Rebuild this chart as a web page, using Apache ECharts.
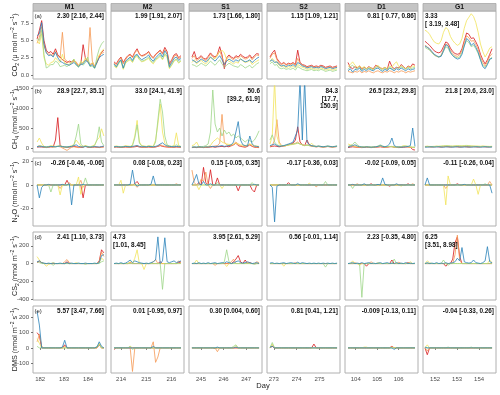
<!DOCTYPE html>
<html><head><meta charset="utf-8">
<script src="https://cdn.jsdelivr.net/npm/echarts@6/dist/echarts.min.js"></script>
<style>html,body{margin:0;padding:0;background:#fff}#c{width:500px;height:395px}</style>
</head><body><div id="c"></div>
<script>
// ---------- categories / axes ----------
const sites = ['M1','M2','S1','S2','D1','G1'];
const panelTags = ['(a)','(b)','(c)','(d)','(e)'];
const xMinDay = [181.7, 213.6, 244.47, 272.7, 103.5, 151.45];
const xMaxDay = [184.75, 216.5, 247.7, 275.9, 106.9, 154.77];
const xTickVals = [[182,183,184],[214,215,216],[245,246,247],[273,274,275],[104,105,106],[152,153,154]];
const dayStart = [181.87, 213.72, 244.6, 272.83, 103.64, 151.54];
const dayEnd   = [184.66, 216.38, 247.57, 275.77, 106.76, 154.59];
const yMinVal = [-0.6, -100, -35, -410, -165];
const yMaxVal = [9.3, 1550, 23, 355, 275];
const yTickVals = [[0,2.5,5,7.5],[0,500,1000,1500],[-20,0,20],[-400,-200,0,200],[-100,0,100,200]];

// ---------- annotations ----------
const notesCO2 = ['2.30 [2.16, 2.44]','1.99 [1.91, 2.07]','1.73 [1.66, 1.80]','1.15 [1.09, 1.21]','0.81 [ 0.77, 0.86]','3.33\n[ 3.19, 3.48]'];
const notesCH4 = ['28.9 [22.7, 35.1]','33.0 [24.1, 41.9]','50.6\n[39.2, 61.9]','84.3\n[17.7,\n150.9]','26.5 [23.2, 29.8]','21.8 [ 20.6, 23.0]'];
const notesN2O = ['-0.26 [-0.46, -0.06]','0.08 [-0.08, 0.23]','0.15 [-0.05, 0.35]','-0.17 [-0.36, 0.03]','-0.02 [-0.09, 0.05]','-0.11 [-0.26, 0.04]'];
const notesCS2 = ['2.41 [1.10, 3.73]','4.73\n[1.01, 8.45]','3.95 [2.61, 5.29]','0.56 [-0.01, 1.14]','2.23 [-0.35, 4.80]','6.25\n[3.51, 8.98]'];
const notesDMS = ['5.57 [3.47, 7.66]','0.01 [-0.95, 0.97]','0.30 [0.004, 0.60]','0.81 [0.41, 1.21]','-0.009 [-0.13, 0.11]','-0.04 [-0.33, 0.26]'];
const leftNotes = ['0-5','3-1','3-5'];

// ---------- data: each panel = [red, orange, yellow, green, blue] ----------
const co2_M1 = [
 [5.2,6.5,7.9,5.0,3.6,3.2,3.4,3.0,3.8,2.9,2.6,2.2,2.0,1.8,2.0,1.9,2.1,1.7,1.4,1.6,4.4,2.4,2.0,1.5,1.7,1.2,1.9,2.6,3.3,3.6],
 [4.6,5.5,7.0,4.2,3.3,3.0,3.0,2.8,3.4,2.7,2.5,6.2,2.3,2.0,1.8,1.7,2.0,1.9,1.3,1.5,1.9,2.2,2.0,6.9,2.0,1.3,1.7,2.8,3.1,3.3],
 [5.0,4.5,6.0,2.5,1.6,1.4,1.8,1.9,2.5,2.1,1.8,3.0,1.7,1.6,1.4,1.8,2.3,1.6,1.3,2.0,1.7,2.5,2.2,1.4,1.8,1.1,2.1,2.9,3.4,3.8],
 [5.3,5.0,6.5,3.0,1.0,1.2,1.5,1.5,2.0,1.8,1.2,1.3,1.4,1.2,1.5,1.9,2.3,1.4,1.1,1.8,1.4,1.8,2.6,1.2,1.3,0.9,2.6,3.8,4.5,4.9],
 [5.7,6.0,7.6,4.5,3.2,2.8,2.9,2.6,3.3,2.5,2.0,1.8,1.6,1.5,1.4,1.6,1.8,1.5,1.2,1.5,1.6,2.1,1.9,1.3,1.5,1.0,1.8,2.5,2.8,3.0]];
const co2_M2 = [
 [1.9,1.6,2.2,2.6,1.8,2.4,2.8,3.0,2.6,3.3,3.8,3.0,2.8,2.9,3.1,3.4,2.8,2.5,3.0,3.3,3.6,3.1,4.0,3.4,1.6,2.2,2.9,3.1,2.5,2.8],
 [1.7,1.5,2.0,2.5,1.6,2.2,2.7,2.9,2.5,3.2,3.6,3.1,2.7,2.8,3.0,3.3,2.7,2.4,2.9,3.2,3.5,3.0,3.7,3.2,1.4,2.0,2.7,2.9,2.3,2.6],
 [1.3,1.0,1.6,2.0,0.8,1.7,2.0,2.2,1.8,2.5,2.7,2.2,1.9,2.0,2.2,2.4,1.9,1.6,2.1,2.4,2.7,2.2,2.9,2.5,0.9,1.4,2.0,2.2,1.7,2.0],
 [1.5,1.1,1.7,2.1,0.9,1.9,2.1,2.4,1.9,2.6,2.9,2.3,2.0,2.1,2.3,2.6,2.0,1.8,2.3,2.5,2.9,2.3,3.1,2.7,1.0,1.5,2.1,2.3,1.8,2.1],
 [1.6,1.2,1.8,2.2,1.0,2.0,2.3,2.6,2.1,2.8,3.0,2.5,2.2,2.4,2.6,2.9,2.3,2.0,2.5,2.8,3.2,2.6,3.5,3.0,1.2,1.8,2.4,2.6,2.1,2.4]];
const co2_S1 = [
 [2.6,3.4,2.3,2.5,2.8,2.4,2.3,2.7,3.2,2.8,2.6,3.0,4.1,2.9,0.9,2.5,2.9,2.6,2.4,2.8,2.6,3.0,2.7,2.5,2.6,2.9,2.4,2.8,3.1,3.0],
 [2.4,2.8,2.1,2.3,2.6,2.3,2.1,2.5,3.0,2.6,2.4,2.8,3.5,2.6,1.6,2.3,2.7,2.4,2.2,2.6,2.4,2.8,2.5,2.3,2.4,2.7,2.2,2.6,2.9,2.8],
 [1.8,2.2,1.6,1.9,2.1,1.8,1.6,2.0,2.6,2.3,2.4,3.0,3.3,3.6,3.2,2.2,2.0,1.8,1.6,1.9,1.7,2.4,2.0,1.8,1.9,2.1,1.5,1.8,2.0,2.2],
 [1.5,1.4,1.2,1.4,1.7,1.5,1.3,1.6,2.0,1.7,1.4,1.8,2.2,1.6,1.1,1.4,1.7,1.5,1.3,1.2,1.1,1.5,1.3,1.0,1.2,1.4,1.0,1.3,1.6,1.8],
 [2.2,2.0,1.8,2.0,2.3,2.1,1.9,2.2,2.6,2.3,2.0,2.4,2.8,2.2,1.5,2.0,2.3,2.1,1.9,2.2,2.0,2.3,2.1,1.9,2.0,2.2,1.8,2.1,2.4,2.6]];
const co2_S2 = [
 [2.6,3.2,3.6,2.4,1.9,1.6,1.8,1.5,1.7,1.6,1.8,1.5,3.6,1.8,1.5,1.4,1.2,1.3,1.4,1.2,1.3,1.2,1.4,1.3,1.1,1.2,1.3,1.1,1.2,1.3],
 [2.4,3.0,3.2,2.2,1.7,1.5,1.7,1.4,1.6,1.5,1.7,1.4,2.4,1.7,1.4,1.3,1.1,1.2,1.3,1.1,1.2,1.1,1.3,1.2,1.0,1.1,1.2,1.0,1.1,1.2],
 [1.9,2.4,2.0,1.8,1.4,1.2,1.3,1.0,1.2,1.1,1.3,1.0,1.5,1.3,1.1,1.0,0.8,0.9,1.0,0.8,0.9,0.8,1.0,0.9,0.7,0.8,0.9,0.7,0.8,0.9],
 [1.6,1.9,1.4,1.5,1.0,0.9,1.0,0.8,0.9,0.8,1.0,0.7,1.2,1.0,0.8,0.7,0.6,0.7,0.8,0.6,0.7,0.6,0.8,0.7,0.5,0.6,0.7,0.5,0.6,0.7],
 [2.0,2.2,1.8,1.9,1.5,1.3,1.4,1.2,1.4,1.3,1.5,1.2,1.8,1.6,1.3,1.2,1.0,1.1,1.2,1.0,1.1,1.0,1.2,1.1,0.9,1.0,1.1,0.9,1.0,1.1]];
const co2_D1 = [
 [1.8,1.1,0.9,1.2,1.0,1.3,0.8,1.1,0.9,1.2,1.0,0.9,1.4,1.2,1.0,0.9,1.1,0.8,2.0,1.2,0.9,1.1,1.0,1.5,1.2,0.9,1.3,1.1,1.6,1.4],
 [0.5,0.4,0.3,0.5,0.4,0.6,0.3,0.5,0.4,0.6,0.4,0.3,0.5,0.6,0.4,0.3,0.5,0.4,0.6,0.5,0.3,0.5,0.4,0.6,0.5,0.3,0.5,0.4,0.5,0.6],
 [1.2,1.5,1.9,1.4,1.1,1.3,1.0,1.2,0.9,1.1,1.0,0.8,1.2,1.4,1.0,0.9,1.1,0.9,1.3,1.1,1.6,1.9,1.2,1.3,1.1,0.9,1.2,1.0,1.3,1.2],
 [0.8,1.2,1.4,1.0,0.9,1.1,0.7,1.0,0.8,1.0,0.9,0.7,1.1,1.2,0.9,0.7,1.0,0.8,1.1,0.9,0.8,1.1,0.9,1.2,1.0,0.8,1.1,0.9,1.0,1.1],
 [0.6,0.9,0.4,0.8,0.7,1.0,0.5,0.8,0.6,0.9,0.7,0.6,0.9,1.0,0.7,0.5,0.8,0.6,1.0,0.8,0.6,0.9,0.7,1.0,0.8,0.6,0.9,0.7,0.8,0.9]];
const co2_G1 = [
 [4.9,4.6,4.3,3.9,3.5,3.3,3.2,3.4,4.1,4.8,4.6,3.9,3.4,3.1,3.0,3.1,3.8,5.0,6.1,5.9,5.3,5.4,4.8,4.1,3.0,2.2,1.6,2.2,3.0,3.8],
 [4.3,4.1,3.7,3.3,2.9,2.7,2.6,2.9,3.7,4.5,4.3,3.6,3.1,2.8,2.7,2.9,3.5,4.7,5.7,5.4,4.9,5.0,4.4,3.7,2.6,1.8,1.3,1.9,2.7,3.1],
 [6.5,6.3,5.9,5.3,4.8,4.6,4.5,5.0,6.2,6.9,6.6,5.6,5.0,4.6,4.3,4.5,5.3,6.8,7.9,8.4,8.9,8.5,7.6,6.2,4.5,3.4,2.6,3.2,3.9,4.1],
 [4.0,3.8,3.6,3.2,2.9,2.7,2.6,2.8,3.4,4.1,3.9,3.2,2.8,2.6,2.5,2.6,3.2,4.3,5.0,4.7,4.1,4.3,3.8,3.1,2.2,1.4,1.1,1.6,2.2,2.6],
 [4.2,4.0,3.8,3.4,3.0,2.8,2.6,2.7,3.5,4.4,4.2,3.3,2.8,2.5,2.3,2.4,3.0,4.2,5.3,5.0,4.3,4.6,4.0,3.3,2.2,1.2,0.9,1.5,2.3,2.4]];

const ch4_M1 = [
 [20,30,25,20,15,20,30,25,200,760,60,30,20,15,20,30,40,30,20,15,20,50,20,15,20,25,20,15,25,30],
 [30,60,40,20,10,20,30,20,30,40,30,0,-30,-60,-20,20,30,20,10,20,30,40,20,10,20,30,20,10,20,30],
 [150,250,120,40,30,40,60,50,40,50,60,40,30,30,40,60,80,200,120,50,40,60,40,30,50,80,200,260,480,300],
 [30,60,50,30,20,30,40,30,30,40,50,30,20,20,30,40,80,300,600,100,40,50,40,30,40,60,200,530,150,60],
 [40,30,35,30,25,30,40,35,30,40,50,35,30,25,35,40,60,80,40,30,25,35,30,20,30,35,30,25,35,50]];
const ch4_M2 = [
 [20,25,20,15,20,25,20,20,25,30,40,25,20,20,20,25,20,20,25,40,60,40,30,25,20,20,20,25,20,20],
 [25,30,25,20,25,30,25,20,30,40,60,30,20,25,20,30,25,20,30,50,80,60,40,30,20,25,20,30,25,20],
 [40,50,40,30,40,60,50,40,80,300,690,150,60,50,40,60,50,40,200,600,1100,400,120,60,50,40,60,380,60,40],
 [30,40,35,30,35,40,35,30,60,250,580,120,50,40,35,45,40,35,150,700,1220,900,300,80,50,40,45,80,50,35],
 [30,35,30,25,30,40,35,30,40,50,60,40,30,35,30,40,35,30,40,60,100,130,80,50,40,35,30,40,35,30]];
const ch4_S1 = [
 [10,15,10,20,15,10,15,20,25,30,20,30,35,40,30,40,30,60,80,120,60,40,30,20,40,80,40,20,15,10],
 [15,20,15,25,20,15,20,25,30,40,50,60,120,840,150,80,60,50,100,150,100,60,40,30,50,100,50,30,20,15],
 [60,80,150,40,30,25,30,40,60,150,200,250,200,150,120,100,90,80,100,120,100,80,70,60,80,100,80,60,50,40],
 [20,30,25,30,30,40,60,100,400,1450,600,400,500,300,450,350,400,300,350,250,300,250,200,150,200,180,150,200,300,430],
 [20,25,20,30,25,20,30,25,35,40,30,40,50,60,40,50,60,80,150,400,660,200,80,60,50,300,100,50,40,30]];
const ch4_S2 = [
 [30,40,50,40,30,40,50,60,80,100,120,200,530,150,80,60,200,80,50,40,30,40,30,25,30,40,30,25,30,40],
 [40,60,200,710,150,60,50,60,80,90,100,120,150,100,80,60,80,60,40,35,30,35,30,25,30,35,30,25,30,35],
 [100,300,1700,300,100,60,50,60,70,80,90,100,120,100,80,60,70,60,120,60,40,50,40,30,40,50,40,30,40,50],
 [200,330,150,80,60,50,60,70,80,90,100,110,120,100,80,60,70,60,50,40,35,40,35,30,35,40,35,30,35,40],
 [60,80,100,60,40,50,60,80,100,120,150,300,450,1700,200,1700,150,80,60,50,40,50,40,30,40,50,40,30,40,50]];
const ch4_D1 = [
 [10,20,30,25,20,15,10,15,20,15,10,15,20,25,30,20,15,20,30,40,20,15,10,15,20,25,30,20,-40,-50],
 [30,60,40,30,20,15,20,25,30,20,15,20,25,30,40,30,20,25,35,30,20,15,20,25,30,35,20,15,10,10],
 [100,80,60,50,40,30,25,30,35,30,25,30,35,40,50,40,30,35,40,35,30,25,30,35,60,50,40,30,20,20],
 [40,60,90,150,80,40,30,25,30,25,20,25,30,50,80,50,30,35,40,30,25,20,25,30,40,50,40,30,20,20],
 [20,40,60,80,50,30,25,20,30,25,20,25,30,40,60,40,30,50,100,250,60,30,25,20,25,30,40,60,500,40]];
const ch4_G1 = [
 [30,36,30,26,31,34,29,25,32,36,30,27,31,35,30,26,30,36,29,25,31,34,30,26,31,35,29,27,30,34],
 [35,40,34,30,36,38,33,30,36,40,35,31,36,40,34,30,35,39,34,30,36,38,33,30,35,40,34,31,35,38],
 [40,45,40,38,42,48,45,50,55,60,58,52,50,55,60,58,55,62,65,60,55,52,50,48,45,50,46,42,40,44],
 [30,35,32,30,35,40,38,42,48,52,50,45,42,46,50,48,45,50,55,50,45,42,40,38,36,40,37,34,32,35],
 [25,20,28,30,22,26,31,24,20,27,30,25,21,26,32,25,22,24,29,26,21,25,30,27,20,24,31,26,22,25]];

const n2o_M1 = [
 [0,0,0,0,0,0,0,0,0,0,0,0,0,4,0,0,0,0,0,0,-11,0,0,0,0,0,0,0,0,0],
 [0,0,0,0,0,0,0,0,0,0,-3,0,0,0,2,0,0,0,0,4,-2,0,0,0,0,0,0,0,0,0],
 [0,0,0,0,0,0,0,0,0,0,-8.5,0,0,0,0,0,0,0,6.8,-8,0,0,0,0,0,0,0,0,0,0],
 [0,0,0,0,0,0,-6,0,0,0,0,0,0,0,0,0,0,0,0,0,0,6,0,0,0,0,0,0,0,0],
 [0,-11,-2,0,0,0.5,0,0,0,0,0,0.5,0,0,1,-17,0,0,0,0,0.5,0,0,0,0,0,0,0,0,0]];
const n2o_M2 = [
 [0,0,0,0,0,0,0,0,0,1,3,0,0,0,0,0,0,0,0,0,0,0,0,0,0,0,0,0,0,0],
 [0,0,0,0,0,0,0,0,0,0,-2,0,0,0,0,0,0,0,0,0,0,0,0,0,0,0,0,1,0,0],
 [0,0,0,4,-7,0,0,0,0,0,0,0,0,0,0,0,0,0,0,0,0,0,0,0,0,0,0,0,0,0],
 [0,0,0,0,0,0,0,0,0,0,0,0,0,0,0,0,0,0,0,0,0,0,0,0,0,0,0,0,0,0],
 [0,0,0,0,0,0,0,0.5,12.7,1,-1,0,0,0,0,0,0.5,7.7,0,0,0,0,0,0,0,0,0,0,0,0]];
const n2o_S1 = [
 [0,0,0,2,0,15,2,0,13,0,0,6,0,0,0,0,0,0,0,0,-5,0,0,0,0,0,-4,-6,0,0],
 [12.7,2,0,0,5,3,11,0,-3,0,0,0,0,0,0,0,0,0,0,0,0,0,0,0,0,0,0,0,0,0],
 [0,0,0,-4,0,0,0,0,0,0,0,0,0,-3,0,0,0,0,0,0,0,0,0,0,0,0,0,0,0,0],
 [0,0,0,0,0,0,0,0,0,0,0,2,0,0,0,0,0,0,0,0,0,0,0,0,0,0,2,0,0,0],
 [0,4,9,1,0,3,0,0,1,0,0,0,0,0,0,0,0,0,0,0,0,0,0,0,0,0,0,0.5,0,0]];
const n2o_S2 = [
 [0,0,0,0,0,0,0,0,2,0,0,0,0,0,0,0,0,0,0,0,0,0,0,0,0,0,0,0,0,0],
 [0,0,0,0,0,0,0,0,0,0,0,0,0,0,0,0,0,0,0,0,-1.5,0,0,0,0,0,0,0,0,0],
 [0,0,0,0,0,0,0,0,0,0,0,0,0,0,0,0,0,1.5,0,0,0,0,0,0,0,0,0,0,0,0],
 [0,0,0,0,0,0,0,0,0,0,0,0,0,0,0,0,0,0,0,0,0,0,0,0,3,0,0,0,0,0],
 [0,-2,-31.5,-1,0,0,0,0,0,0,0,0,1,0,0,0,0,0,0,0,0,0,0,0,0,0,0,0,0,0]];
const n2o_D1 = [
 [0,0,0,0,0,0,0,0,0,0,1,0,0,0,0,0,0,0,-1,0,0,0,0,0,0,0,1,0,0,0],
 [0,0,0,0,1,0,0,0,0,0,0,0,0,0,0,0,0,0,0,0,0,0,0,0,0,0,0,0,1,0],
 [0,0,0,0,0,0,0,0,0,0,0,0,0,0,0,0,0,0,0,0,0,0,0,-1,0,0,0,0,0,0],
 [0,0,-3,0,0,0,0,0,0,0,0,0,0,0,0,0,0,0,0,0,0,0,0,0,0,0,0,0,0,0],
 [0,0,0.5,0,0,0,0,1,0,0,0,0,0,0.5,0,6,0.5,0,0,0,0,1,0,0,0,0,0,0,0,0]];
const n2o_G1 = [
 [0,0,0,0,0,0,0,0,0,0,0,0,0,0,1,0,0,0,0,0,0,0,0,0,0,0,0,0,0,0],
 [0,0,0,0,0,0,0,0,0,-3,0,0,0,0,0,0,0,0,0,0,0,0,0,0,0,0,0,0,3,0],
 [0,0,0,0,0,0,0,0,0,-17,7.7,0,0,0,0,0,0,0,0,0,0,5,0,-8,0,0,0,0,0,0],
 [0,0,0,0,0,0,0,0,0,0,0,0,0,0,0,0,0,0,0,0,0,0,0,0,0,0,1,0,0,0],
 [0,6,0,0,0,0,0,0,0,0,0,0,0,0,0,0,0,0.5,0,0,0,0,0,0,0,0,0,0,0,-7]];

const cs2_M1 = [
 [10,30,10,0,0,0,0,0,0,0,0,0,0,20,0,0,0,0,0,0,0,0,0,0,0,0,0,30,155,120],
 [20,20,10,0,0,0,0,0,0,0,0,0,20,45,10,0,0,0,0,0,0,0,0,0,0,0,0,20,130,80],
 [78,40,10,0,-30,-10,0,10,0,0,0,0,0,0,0,0,0,10,0,0,0,0,0,0,0,0,0,10,60,40],
 [20,10,0,0,0,0,0,-20,0,0,0,0,0,0,0,0,0,0,0,0,0,-10,0,0,0,0,0,0,20,30],
 [20,30,10,5,0,5,0,5,0,0,5,0,0,10,0,5,0,0,5,0,0,5,0,0,0,5,0,10,90,100]];
const cs2_M2 = [
 [0,0,0,0,0,0,0,10,0,0,0,0,0,0,0,0,0,0,0,0,20,0,0,0,0,0,0,0,10,20],
 [0,0,0,0,0,0,0,0,0,0,0,0,0,0,0,0,0,20,45,0,0,0,0,0,0,0,0,0,30,10],
 [0,0,0,0,0,0,0,20,0,60,155,0,0,-67,0,0,0,0,0,0,0,0,0,0,0,0,0,0,0,0],
 [0,0,0,0,0,0,0,0,0,0,0,0,0,0,0,0,0,0,0,0,0,-290,0,0,0,0,0,0,0,0],
 [0,5,0,10,0,5,20,40,10,30,20,10,5,0,5,0,10,20,40,300,0,30,290,20,10,20,30,10,20,30]];
const cs2_S1 = [
 [0,0,0,0,0,0,0,0,0,0,0,0,0,0,0,0,0,0,20,50,90,20,0,40,0,10,0,0,0,0],
 [0,0,0,0,0,0,0,0,0,0,-20,0,0,0,0,0,0,20,50,0,0,0,0,0,10,0,0,0,20,10],
 [0,0,40,0,0,0,0,0,0,0,0,0,0,0,0,-33,0,0,0,0,0,0,0,0,0,0,0,0,0,0],
 [0,0,0,0,0,0,0,0,0,0,0,0,0,0,20,155,20,0,0,0,0,0,0,0,0,0,0,-10,0,0],
 [0,5,0,10,0,5,0,10,0,5,10,0,5,10,5,20,10,0,10,20,30,10,5,10,20,10,0,5,10,0]];
const cs2_S2 = [
 [0,0,0,0,0,0,0,0,0,0,0,0,0,0,0,0,0,0,0,0,0,0,0,0,0,0,0,0,0,0],
 [0,0,0,0,0,0,0,0,0,0,0,10,0,0,0,0,0,0,0,0,0,0,0,0,0,0,0,0,0,0],
 [0,0,0,0,0,0,-30,0,0,0,0,0,0,0,0,0,0,0,0,0,0,0,0,0,0,0,0,0,0,0],
 [0,0,0,0,0,0,0,0,0,0,0,0,0,0,0,0,0,0,0,0,0,0,0,0,-40,0,0,0,0,0],
 [5,10,0,5,0,5,10,0,5,10,5,0,15,0,10,5,0,5,0,5,0,5,0,5,0,5,0,5,0,5]];
const cs2_D1 = [
 [0,0,0,0,0,0,0,0,-30,0,0,0,0,0,0,0,0,0,0,40,0,0,0,0,0,0,10,0,0,0],
 [0,0,0,10,0,0,0,0,0,0,20,0,0,0,0,0,0,0,0,0,0,0,15,0,0,0,0,0,0,0],
 [0,0,30,0,0,-20,0,0,0,0,0,0,0,10,0,0,0,0,0,0,0,0,0,0,0,0,0,20,0,0],
 [0,0,0,0,0,0,-380,0,0,0,0,0,0,0,0,0,0,0,0,0,50,0,0,0,0,0,0,0,0,0],
 [0,5,10,0,5,0,10,0,5,10,0,5,0,5,10,0,5,10,0,5,0,10,0,5,0,10,0,5,0,5]];
const cs2_G1 = [
 [0,0,0,0,0,0,0,0,0,-30,0,0,50,235,300,80,0,0,0,0,0,0,0,0,0,0,0,0,0,0],
 [0,0,0,0,0,0,0,0,0,0,0,0,0,100,320,40,0,0,0,0,0,0,0,0,0,0,0,0,0,0],
 [0,30,10,0,0,0,0,0,0,0,0,0,0,0,0,0,0,0,0,0,0,0,0,0,0,0,0,0,40,10],
 [0,0,0,0,0,0,0,0,40,0,-20,0,0,0,0,0,0,0,0,0,0,0,0,0,0,0,0,0,0,0],
 [0,10,0,5,0,10,0,5,0,10,0,5,10,20,60,30,180,20,10,5,10,40,10,5,0,10,30,190,20,10]];

const dms_M1 = [
 [100,80,0,0,0,0,0,0,0,0,0,0,20,0,0,0,0,0,0,0,0,0,0,0,0,0,0,20,0,0],
 [40,90,10,0,0,0,0,0,0,0,0,0,10,0,0,0,0,0,0,0,0,0,0,0,0,0,0,25,0,0],
 [60,30,0,0,0,0,0,0,0,0,0,0,0,0,0,0,0,0,0,0,0,0,0,0,0,0,0,30,0,0],
 [10,0,0,0,0,0,0,0,0,0,0,0,0,0,0,0,0,0,0,0,0,0,0,0,0,0,10,20,0,0],
 [240,150,0,0,0,0,0,0,0,0,0,5,50,0,0,0,0,0,0,0,0,0,0,0,0,0,5,40,10,0]];
const dms_M2 = [
 [-10,0,0,0,0,0,0,0,0,0,0,0,0,0,0,0,0,0,0,0,0,0,0,0,0,0,0,0,0,0],
 [0,0,0,0,0,0,0,0,-155,0,0,0,0,0,0,0,0,40,-95,-60,0,0,0,0,0,0,0,0,0,0],
 [0,0,0,0,0,0,0,10,0,0,0,0,0,0,0,0,0,0,0,0,0,0,0,0,0,0,0,0,0,0],
 [0,0,0,0,0,0,0,10,-10,0,0,0,0,0,0,0,0,0,0,0,0,0,0,0,0,0,0,0,0,0],
 [0,0,0,0,0,0,0,0,0,0,0,0,0,0,0,0,0,10,0,0,0,0,0,0,0,0,0,0,0,0]];
const dms_S1 = [
 [0,0,0,0,0,0,0,0,0,0,-5,0,0,0,0,0,0,0,0,0,0,0,0,0,0,0,0,0,0,0],
 [0,0,0,0,0,0,0,0,0,0,0,-25,0,0,0,0,0,0,0,0,0,0,0,0,0,0,0,0,0,0],
 [0,0,0,0,0,0,0,0,0,0,0,0,0,0,0,0,0,0,0,15,0,0,0,0,0,0,0,0,0,0],
 [0,0,0,0,0,0,0,0,0,0,0,0,0,0,0,0,0,0,10,20,0,0,0,0,0,0,0,0,0,0],
 [0,0,0,0,0,0,0,0,0,0,0,5,0,0,0,0,0,0,0,5,0,0,0,0,0,0,0,0,0,0]];
const dms_S2 = [
 [0,10,0,0,0,0,0,0,0,0,0,0,0,0,0,0,0,0,0,25,0,0,0,0,0,0,0,0,0,0],
 [0,15,0,0,0,0,0,0,0,0,0,0,0,0,0,0,0,0,0,0,0,0,0,0,0,0,0,0,0,0],
 [0,25,0,0,0,0,0,0,0,0,0,0,0,0,0,0,0,0,0,0,0,0,0,0,0,0,0,0,0,0],
 [0,35,0,0,0,0,0,0,0,0,0,0,0,0,0,0,0,0,0,0,0,0,0,0,0,0,0,0,0,0],
 [5,10,0,0,0,0,0,0,0,0,0,0,0,0,0,0,0,0,0,0,0,0,0,0,0,0,0,0,0,0]];
const dms_D1 = [
 [0,0,0,0,0,0,0,0,0,0,0,0,0,0,0,0,0,0,0,10,0,0,0,0,0,0,0,0,0,0],
 [0,0,0,0,0,0,0,0,0,0,0,0,0,0,0,0,0,0,0,8,0,0,0,0,0,0,0,0,0,0],
 [0,0,0,0,0,0,0,5,5,0,0,0,0,0,0,0,0,0,0,0,0,0,0,0,0,0,0,0,0,0],
 [0,0,0,0,0,0,0,0,0,0,0,0,0,0,0,0,0,0,0,0,0,0,0,0,0,0,0,0,0,0],
 [0,0,0,0,0,0,0,0,0,0,0,0,0,0,0,0,0,0,0,0,-10,0,0,0,0,0,0,0,0,0]];
const dms_G1 = [
 [0,-45,0,0,0,0,0,0,0,0,0,0,0,0,0,0,0,0,0,0,0,0,0,0,0,0,0,0,0,0],
 [0,-20,0,0,0,0,0,0,0,0,0,0,0,0,0,0,0,0,0,0,0,0,0,0,0,0,0,0,0,0],
 [0,20,0,0,0,0,0,0,0,0,0,0,0,0,0,0,0,0,0,0,0,0,0,0,0,0,0,0,0,0],
 [0,0,0,0,0,0,0,0,0,0,5,0,0,0,0,0,0,0,0,0,5,0,0,0,0,0,0,0,0,0],
 [5,0,0,0,0,0,0,0,0,0,0,0,0,0,0,0,0,0,0,0,0,0,0,0,0,0,0,0,0,0]];

// ---------- build ----------
const panelData = [
 [co2_M1,co2_M2,co2_S1,co2_S2,co2_D1,co2_G1],
 [ch4_M1,ch4_M2,ch4_S1,ch4_S2,ch4_D1,ch4_G1],
 [n2o_M1,n2o_M2,n2o_S1,n2o_S2,n2o_D1,n2o_G1],
 [cs2_M1,cs2_M2,cs2_S1,cs2_S2,cs2_D1,cs2_G1],
 [dms_M1,dms_M2,dms_S1,dms_S2,dms_D1,dms_G1]];
const notes = [notesCO2, notesCH4, notesN2O, notesCS2, notesDMS];
const colors = ['#d7191c','#f59a55','#f2e45c','#9fd68a','#2b83ba'];
const FONT = '"Liberation Sans", Arial, sans-serif';

const colLeft = [33,111,189,267,345,423], panelW = 73;
const rowTop = [11,86,158,232,306], rowH = [68,66,68,68,67];

const grids=[], xAxes=[], yAxes=[], series=[], gfx=[];
for (let r=0;r<5;r++){
  for (let c=0;c<6;c++){
    const idx = r*6+c;
    grids.push({left:colLeft[c], top:rowTop[r], width:panelW, height:rowH[r],
      show:true, borderColor:'#b0b0b0', borderWidth:1, backgroundColor:'#fff'});
    xAxes.push({type:'value', gridIndex:idx, min:xMinDay[c], max:xMaxDay[c],
      splitLine:{show:false}, axisLine:{show:false},
      axisTick:{show:r===4, customValues:xTickVals[c], length:2, lineStyle:{color:'#555', width:0.8}},
      axisLabel:{show:r===4, customValues:xTickVals[c], fontSize:6, color:'#4d4d4d', margin:3, fontFamily:FONT,
        formatter:v=>String(Math.round(v))}});
    yAxes.push({type:'value', gridIndex:idx, min:yMinVal[r], max:yMaxVal[r],
      splitLine:{show:false}, axisLine:{show:false},
      axisTick:{show:c===0, customValues:yTickVals[r], length:2, lineStyle:{color:'#555', width:0.8}},
      axisLabel:{show:c===0, customValues:yTickVals[r], fontSize:6, color:'#4d4d4d', margin:4, fontFamily:FONT,
        formatter:v=> r===0 ? v.toFixed(1) : String(Math.round(v))}});
    const pd = panelData[r][c];
    const n = pd[0].length;
    for (let s=0;s<5;s++){
      const vals = pd[s];
      series.push({type:'line', xAxisIndex:idx, yAxisIndex:idx, symbol:'none', showSymbol:false,
        clip:true, silent:true, z:2+s,
        lineStyle:{width:0.9, color:colors[s], opacity:0.9}, itemStyle:{color:colors[s]},
        emphasis:{disabled:true},
        data: vals.map((v,i)=>[dayStart[c] + (dayEnd[c]-dayStart[c])*i/(n-1), v])});
    }
    // annotation
    const isLeft = leftNotes.includes(r+'-'+c);
    gfx.push({type:'text', z:100, style:{text:notes[r][c], x: isLeft ? colLeft[c]+2 : colLeft[c]+panelW-2,
      y: rowTop[r]+2, align: isLeft?'left':'right', verticalAlign:'top',
      font:'bold 6.4px '+FONT, fill:'#111', lineHeight:7.2}});
  }
  // panel tag
  gfx.push({type:'text', z:100, style:{text:panelTags[r], x:colLeft[0]+1.5, y:rowTop[r]+2, align:'left', verticalAlign:'top',
    font:'6px '+FONT, fill:'#222'}});
}
// strip headers
for (let c=0;c<6;c++){
  gfx.push({type:'rect', z:90, shape:{x:colLeft[c], y:3.5, width:panelW, height:7.5},
    style:{fill:'#c4c4c4', stroke:'#a8a8a8', lineWidth:0.8}});
  gfx.push({type:'text', z:95, style:{text:sites[c], x:colLeft[c]+panelW/2, y:7.4, align:'center', verticalAlign:'middle',
    font:'bold 6.8px '+FONT, fill:'#111'}});
}
// y titles (rich text for sub/superscripts)
const rich = {
  n:{fontSize:7.2, fontFamily:FONT, fill:'#222', lineHeight:10, verticalAlign:'middle'},
  sb:{fontSize:5, fontFamily:FONT, fill:'#222', lineHeight:10, verticalAlign:'bottom'},
  sp:{fontSize:5, fontFamily:FONT, fill:'#222', lineHeight:10, verticalAlign:'top'}
};
const yTitles = [
  '{n|CO}{sb|2}{n| (μ mol m}{sp|−2}{n| s}{sp|−1}{n|)}',
  '{n|CH}{sb|4}{n| (nmol m}{sp|−2}{n| s}{sp|−1}{n|)}',
  '{n|N}{sb|2}{n|O (nmol m}{sp|−2}{n| s}{sp|−1}{n|)}',
  '{n|CS}{sb|2}{n| (nmol m}{sp|−2}{n| s}{sp|−1}{n|)}',
  '{n|DMS (nmol m}{sp|−2}{n| s}{sp|−1}{n|)}'
];
for (let r=0;r<5;r++){
  gfx.push({type:'text', z:100, x:15, y:rowTop[r]+rowH[r]/2, rotation:Math.PI/2,
    style:{text:yTitles[r], rich:rich, align:'center', verticalAlign:'middle', x:0, y:0}});
}
gfx.push({type:'text', z:100, style:{text:'Day', x:263, y:386, align:'center', verticalAlign:'middle',
  font:'7.5px '+FONT, fill:'#222'}});

const chart = echarts.init(document.getElementById('c'), null, {renderer:'canvas'});
chart.setOption({animation:false, backgroundColor:'#fff', grid:grids, xAxis:xAxes, yAxis:yAxes, series:series,
  graphic:{elements:gfx}});
</script></body></html>
